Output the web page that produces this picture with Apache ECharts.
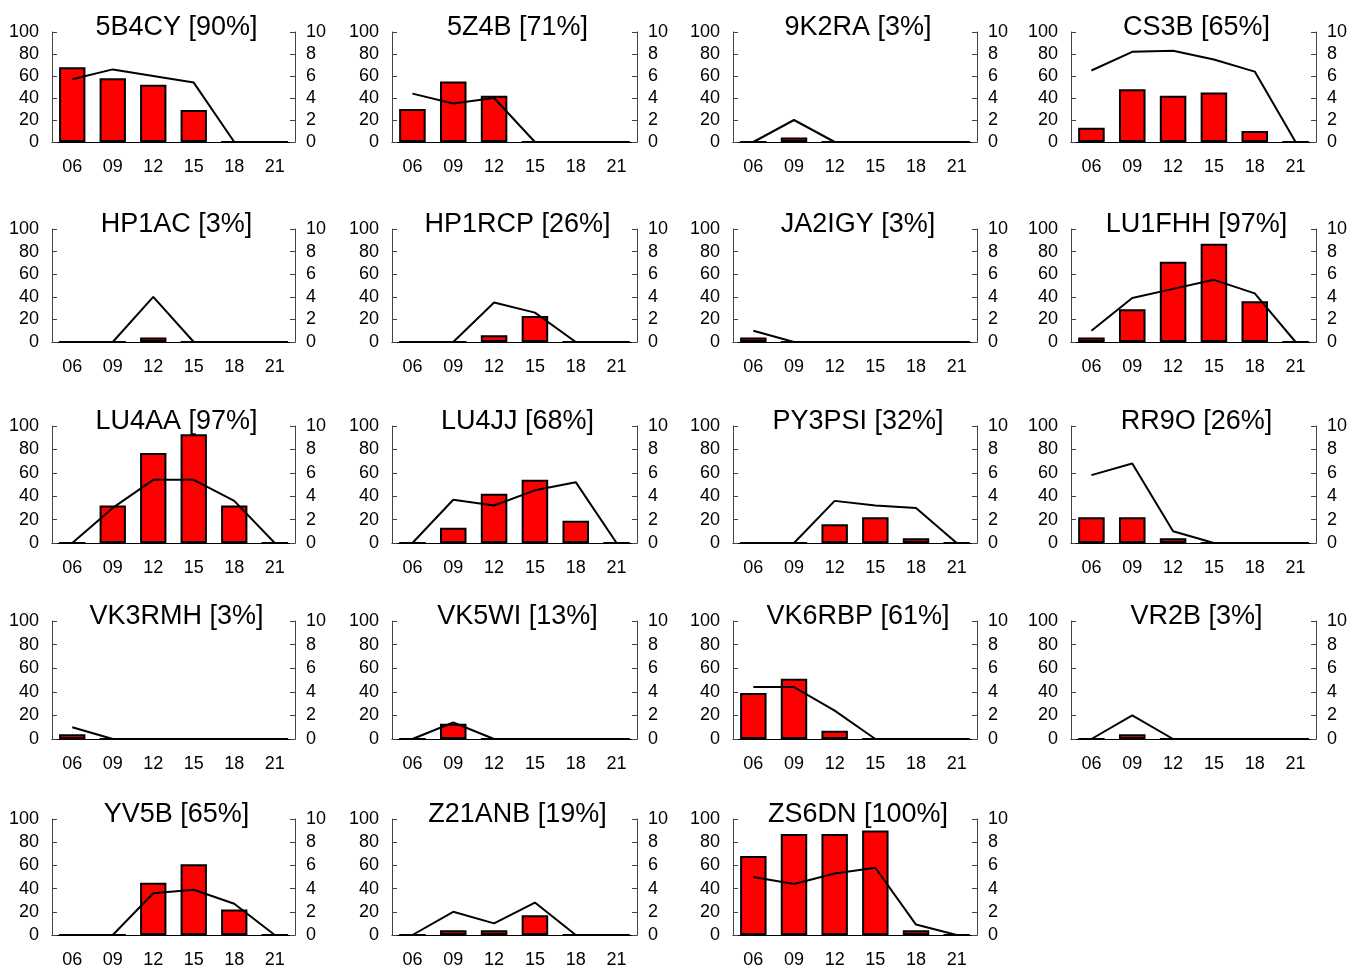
<!DOCTYPE html>
<html><head><meta charset="utf-8">
<script src="https://cdn.jsdelivr.net/npm/echarts@6/dist/echarts.min.js"></script>
<style>html,body{margin:0;padding:0;background:#fff}#c{width:1354px;height:969px}</style>
</head><body><div id="c"></div>
<script>
const hours = ['06', '09', '12', '15', '18', '21'];
const stations = ['5B4CY', '5Z4B', '9K2RA', 'CS3B', 'HP1AC', 'HP1RCP', 'JA2IGY', 'LU1FHH', 'LU4AA', 'LU4JJ', 'PY3PSI', 'RR9O', 'VK3RMH', 'VK5WI', 'VK6RBP', 'VR2B', 'YV5B', 'Z21ANB', 'ZS6DN'];
const percents = [90, 71, 3, 65, 3, 26, 3, 97, 97, 68, 32, 26, 3, 13, 61, 3, 65, 19, 100];
// bar values (left axis, 0-100)
const barValues = [
  [68, 58, 52, 29, 0, 0],
  [30, 55, 42, 0, 0, 0],
  [0, 4, 0, 0, 0, 0],
  [13, 48, 42, 45, 10, 0],
  [0, 0, 4, 0, 0, 0],
  [0, 0, 6, 23, 0, 0],
  [4, 0, 0, 0, 0, 0],
  [4, 29, 71, 87, 36, 0],
  [0, 32, 77, 93, 32, 0],
  [0, 13, 42, 54, 19, 0],
  [0, 0, 16, 22, 4, 0],
  [22, 22, 4, 0, 0, 0],
  [4, 0, 0, 0, 0, 0],
  [0, 13, 0, 0, 0, 0],
  [39, 51, 7, 0, 0, 0],
  [0, 4, 0, 0, 0, 0],
  [0, 0, 45, 61, 22, 0],
  [0, 4, 4, 17, 0, 0],
  [68, 87, 87, 90, 4, 0]
];
// line values (right axis, 0-10)
const lineValues = [
  [5.7, 6.6, 6.0, 5.4, 0, 0],
  [4.4, 3.5, 4.0, 0, 0, 0],
  [0, 2.0, 0, 0, 0, 0],
  [6.5, 8.2, 8.3, 7.5, 6.4, 0],
  [0, 0, 4.0, 0, 0, 0],
  [0, 0, 3.5, 2.6, 0, 0],
  [1.0, 0, 0, 0, 0, 0],
  [1.0, 3.9, 4.7, 5.5, 4.3, 0],
  [0, 3.0, 5.4, 5.4, 3.6, 0],
  [0, 3.7, 3.2, 4.5, 5.2, 0],
  [0, 0, 3.6, 3.2, 3.0, 0],
  [5.8, 6.8, 1.0, 0, 0, 0],
  [1.0, 0, 0, 0, 0, 0],
  [0, 1.4, 0, 0, 0, 0],
  [4.4, 4.4, 2.4, 0, 0, 0],
  [0, 2.0, 0, 0, 0, 0],
  [0, 0, 3.6, 3.9, 2.7, 0],
  [0, 2.0, 1.0, 2.8, 0, 0],
  [5.0, 4.4, 5.3, 5.8, 0.9, 0]
];

const colLeft = [52, 392, 733, 1071];
const colRight = [295, 637, 977, 1316];
const rowTop = [32, 229, 426, 621, 819];
const rowBottom = [142, 342, 543, 739, 940];
const FONT = '"Liberation Sans", Arial, sans-serif';

const chart = echarts.init(document.getElementById('c'), null, {renderer: 'canvas'});
const grid = [], xAxis = [], yAxis = [], series = [], title = [];
stations.forEach((name, i) => {
  const r = Math.floor(i / 4), c = i % 4;
  const l = colLeft[c], rt = colRight[c], t = rowTop[r], b = rowBottom[r];
  grid.push({left: l, top: t, width: rt - l, height: b - t, containLabel: false});
  title.push({
    text: name + ' [' + percents[i] + '%]',
    left: (l + rt) / 2 - 2, top: t - 23, textAlign: 'center',
    textStyle: {fontFamily: FONT, fontSize: 27, fontWeight: 'normal', color: '#000'}
  });
  xAxis.push({
    type: 'category', gridIndex: i, data: hours, boundaryGap: true,
    axisLine: {show: true, lineStyle: {color: '#000', width: 1}},
    axisTick: {show: false},
    axisLabel: {fontFamily: FONT, fontSize: 18, color: '#000', margin: 16},
    splitLine: {show: false}
  });
  yAxis.push({
    type: 'value', gridIndex: i, min: 0, max: 100, interval: 20, position: 'left',
    axisLine: {show: true, lineStyle: {color: '#444', width: 1}},
    axisTick: {show: true, inside: true, length: 5, lineStyle: {color: '#444'}},
    axisLabel: {fontFamily: FONT, fontSize: 18, color: '#000', margin: 13},
    splitLine: {show: false}
  });
  yAxis.push({
    type: 'value', gridIndex: i, min: 0, max: 10, interval: 2, position: 'right',
    axisLine: {show: true, lineStyle: {color: '#444', width: 1}},
    axisTick: {show: true, inside: true, length: 5, lineStyle: {color: '#444'}},
    axisLabel: {fontFamily: FONT, fontSize: 18, color: '#000', margin: 11},
    splitLine: {show: false}
  });
  series.push({
    type: 'bar', xAxisIndex: i, yAxisIndex: 2 * i, data: barValues[i],
    barWidth: '65%',
    itemStyle: {color: '#ff0000', borderColor: '#000', borderWidth: 2}
  });
  series.push({
    type: 'line', xAxisIndex: i, yAxisIndex: 2 * i + 1, data: lineValues[i],
    symbol: 'none', lineStyle: {color: '#000', width: 2}, z: 5
  });
});
chart.setOption({animation: false, backgroundColor: '#fff', title, grid, xAxis, yAxis, series});
</script>
</body></html>
